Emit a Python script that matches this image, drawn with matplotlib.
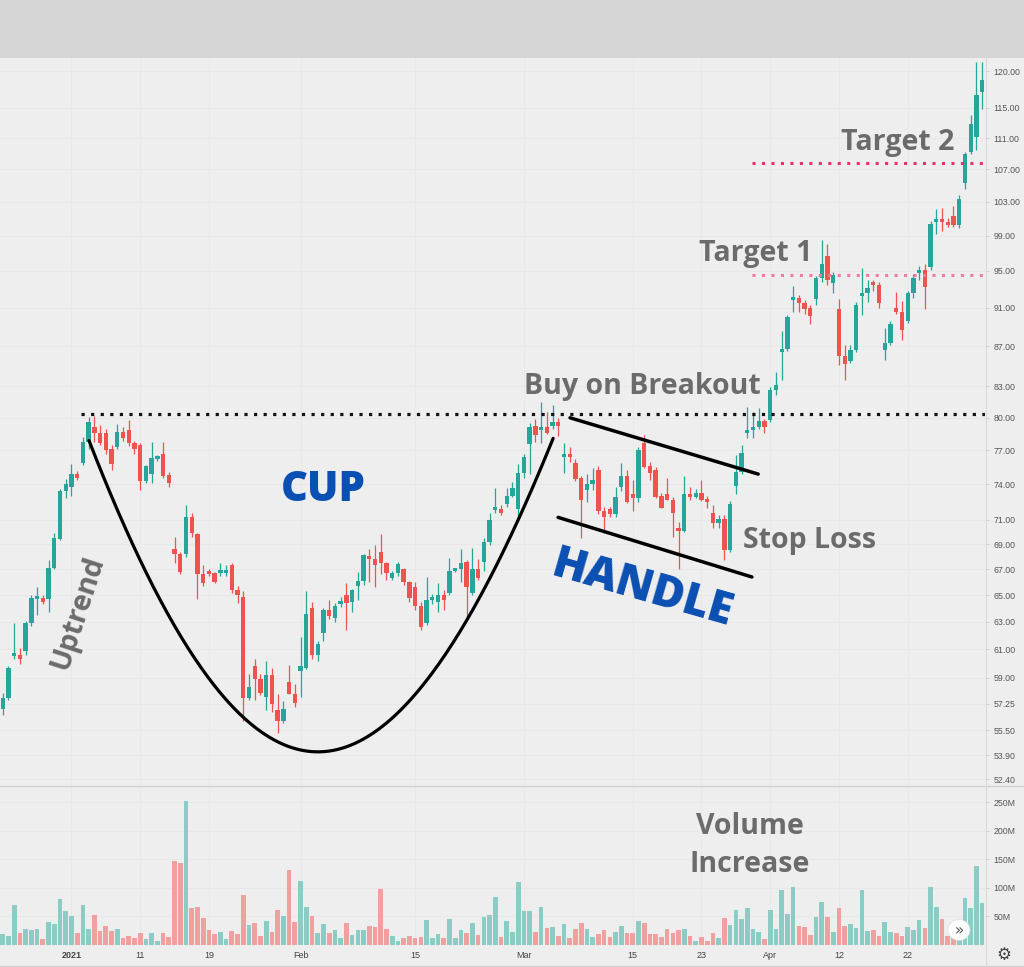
import matplotlib
matplotlib.use('Agg')
import matplotlib.pyplot as plt
import numpy as np
from matplotlib.lines import Line2D
from matplotlib.patches import Rectangle, Circle
from matplotlib.ticker import FixedLocator, FixedFormatter, NullLocator

# ---- candle data (price) ----
opens = [55.8, 56.9, 57.6, 60.5, 60.6, 60.9, 62.9, 64.7, 64.8, 64.7,
         67.1, 69.4, 73.4, 73.8, 74.9, 75.9, 77.8, 79.1, 78.6, 78.6,
         77.1, 77.3, 78.7, 78.9, 77.7, 77.5, 74.3, 74.9, 76.2, 76.7,
         74.8, 68.6, 68.2, 68.2, 71.2, 69.8, 66.6, 66.8, 66.7, 66.7,
         66.7, 67.3, 65.4, 64.9, 57.6, 59.8, 58.9, 57.7, 59.2, 56.8,
         56.1, 58.7, 57.9, 59.5, 59.7, 64.0, 60.6, 62.2, 63.9, 63.3,
         64.3, 65.0, 64.5, 65.7, 66.1, 67.9, 67.8, 68.4, 67.5, 66.3,
         66.7, 67.0, 66.0, 65.6, 64.2, 62.9, 64.6, 64.5, 65.0, 65.2,
         66.9, 67.0, 67.6, 65.2, 67.0, 67.6, 69.2, 71.8, 71.9, 72.3,
         73.0, 71.9, 75.0, 77.6, 79.2, 78.9, 79.1, 79.2, 79.6, 76.4,
         76.7, 75.9, 74.6, 73.5, 74.0, 75.3, 71.7, 71.9, 71.5, 73.8,
         74.7, 73.2, 72.8, 77.7, 75.6, 75.3, 73.0, 73.2, 72.7, 70.3,
         70.1, 73.2, 72.9, 73.3, 72.7, 71.6, 70.7, 71.1, 68.5, 73.9,
         75.1, 78.6, 78.9, 79.1, 79.7, 79.8, 82.6, 86.4, 86.7, 91.8,
         92.0, 91.5, 91.0, 91.9, 94.2, 96.7, 93.7, 90.9, 86.0, 85.5,
         86.6, 92.3, 92.6, 93.7, 93.5, 86.6, 87.3, 91.0, 90.6, 89.6,
         92.6, 94.8, 95.1, 95.4, 100.6, 100.9, 100.6, 101.3, 100.2, 105.3,
         109.2, 111.1, 117.2]
highs = [57.0, 58.0, 59.8, 62.9, 61.1, 63.1, 65.0, 65.6, 65.0, 67.7,
         69.9, 73.6, 74.5, 75.8, 75.2, 78.2, 80.1, 80.2, 79.3, 79.0,
         77.5, 79.4, 79.1, 79.8, 77.9, 77.7, 75.7, 77.8, 76.6, 77.8,
         75.1, 69.6, 68.4, 72.2, 71.6, 69.9, 67.3, 67.0, 66.8, 67.5,
         67.3, 67.5, 65.7, 65.3, 59.3, 60.3, 59.3, 60.2, 59.7, 57.9,
         57.4, 59.9, 58.6, 61.9, 65.3, 64.5, 61.6, 64.0, 64.6, 64.4,
         64.9, 65.9, 65.5, 66.8, 68.2, 68.6, 68.9, 69.8, 67.6, 66.9,
         67.6, 67.1, 66.1, 66.0, 64.5, 66.4, 65.1, 65.9, 65.4, 67.9,
         67.1, 68.6, 67.7, 68.7, 67.8, 69.5, 71.6, 73.7, 72.2, 73.7,
         74.2, 75.8, 76.7, 79.5, 79.9, 81.5, 80.5, 81.2, 80.0, 77.7,
         77.3, 76.2, 74.7, 74.9, 75.4, 75.6, 72.1, 72.1, 73.8, 75.9,
         75.3, 74.4, 77.3, 78.4, 76.0, 75.5, 73.3, 74.6, 72.9, 70.8,
         74.7, 73.8, 73.6, 74.4, 73.0, 72.2, 71.4, 71.4, 72.6, 76.6,
         77.5, 81.0, 80.5, 80.9, 79.9, 82.9, 84.4, 88.6, 90.2, 93.3,
         92.4, 91.8, 91.3, 94.5, 98.5, 98.0, 94.9, 91.9, 87.1, 87.1,
         91.6, 95.3, 94.0, 94.0, 93.8, 88.9, 89.6, 92.7, 91.7, 92.8,
         94.7, 95.6, 95.8, 100.7, 102.2, 102.3, 101.1, 102.5, 103.8, 109.2,
         114.0, 121.4, 121.3]
lows = [55.4, 56.5, 57.5, 60.3, 60.0, 60.6, 62.7, 63.5, 64.3, 63.7,
        67.0, 69.3, 72.8, 73.0, 74.4, 75.7, 77.1, 77.8, 77.5, 76.7,
        75.3, 77.1, 77.9, 77.4, 76.7, 73.5, 74.1, 74.1, 76.1, 74.6,
        73.8, 67.5, 66.6, 68.0, 69.6, 64.7, 65.7, 66.5, 65.9, 66.5,
        66.5, 65.2, 64.4, 56.1, 57.5, 57.5, 57.8, 56.8, 56.7, 55.3,
        56.0, 57.9, 57.0, 57.7, 59.6, 60.3, 60.2, 61.6, 63.2, 63.0,
        64.1, 62.4, 63.7, 64.6, 65.8, 66.0, 65.6, 66.6, 66.2, 66.2,
        66.5, 65.8, 64.5, 63.9, 62.4, 62.8, 64.3, 63.7, 63.9, 65.0,
        66.8, 66.0, 63.3, 65.0, 66.2, 66.9, 68.9, 71.6, 71.4, 72.1,
        72.9, 71.3, 74.6, 74.9, 77.8, 77.7, 78.5, 79.0, 78.3, 75.0,
        76.0, 74.3, 69.5, 72.5, 73.5, 71.5, 69.9, 71.2, 71.2, 73.4,
        72.4, 71.7, 72.5, 75.4, 74.4, 72.8, 72.0, 72.7, 69.6, 67.0,
        70.0, 72.7, 72.8, 72.6, 72.0, 70.3, 70.3, 67.7, 68.4, 73.2,
        74.9, 78.1, 78.1, 79.0, 78.6, 79.6, 82.2, 83.6, 86.5, 90.5,
        90.5, 90.3, 89.3, 91.3, 93.8, 93.5, 92.6, 85.1, 83.6, 85.3,
        86.4, 90.2, 91.6, 92.8, 91.0, 85.6, 87.1, 90.3, 87.6, 89.4,
        92.0, 94.0, 90.9, 95.1, 99.2, 99.5, 100.0, 100.0, 99.9, 104.6,
        108.9, 109.5, 114.9]
closes = [56.6, 57.6, 59.7, 60.7, 60.3, 62.9, 64.8, 64.9, 64.5, 67.1,
          69.5, 73.4, 74.0, 74.9, 74.6, 77.8, 79.6, 78.6, 77.7, 77.0,
          75.8, 78.7, 78.1, 77.7, 77.1, 74.3, 75.6, 76.3, 76.5, 74.7,
          74.1, 68.2, 66.8, 71.2, 69.9, 66.6, 65.9, 66.6, 66.0, 66.8,
          66.8, 65.4, 65.0, 57.6, 58.4, 58.9, 58.0, 59.2, 57.2, 56.1,
          56.9, 57.9, 57.3, 59.8, 63.6, 60.6, 61.4, 63.9, 63.4, 64.2,
          64.5, 64.4, 65.4, 66.1, 68.1, 67.8, 67.3, 67.5, 66.7, 66.7,
          67.4, 66.0, 64.8, 64.2, 62.6, 64.6, 64.8, 65.0, 64.6, 66.9,
          67.0, 67.5, 65.6, 67.0, 66.3, 69.2, 71.0, 72.0, 71.6, 73.0,
          73.7, 75.0, 76.4, 79.1, 78.4, 79.1, 78.6, 79.6, 79.2, 76.7,
          76.4, 74.5, 72.7, 74.0, 74.4, 71.7, 71.2, 71.5, 72.9, 74.7,
          72.5, 72.8, 77.0, 75.5, 75.0, 72.9, 72.0, 72.7, 71.6, 70.1,
          73.2, 72.9, 73.3, 72.7, 72.5, 70.7, 71.1, 68.5, 72.3, 75.1,
          76.8, 78.9, 79.1, 79.7, 79.1, 82.6, 83.1, 86.6, 90.0, 92.0,
          91.5, 90.9, 90.1, 94.2, 95.8, 94.0, 94.6, 86.0, 85.2, 86.6,
          91.3, 92.5, 93.1, 93.5, 91.5, 87.3, 89.3, 90.6, 88.7, 92.6,
          94.2, 95.1, 93.2, 100.4, 100.9, 100.6, 100.3, 100.2, 103.3, 108.9,
          112.9, 116.7, 118.8]

# volume in millions
volume_m = [20.0, 18.7, 15.8, 70.2, 21.6, 27.5, 26.3, 27.5, 9.9, 39.8,
            36.9, 80.1, 59.7, 50.9, 20.5, 70.2, 28.1, 52.7, 25.2, 33.9,
            25.2, 28.1, 12.9, 16.4, 12.9, 20.5, 10.5, 20.5, 7.0, 21.6,
            14.6, 148.0, 143.0, 252.7, 64.4, 67.3, 48.0, 26.3, 18.7, 22.2,
            9.9, 24.6, 19.3, 87.8, 35.1, 39.2, 15.8, 42.7, 23.4, 61.4,
            51.5, 131.6, 39.8, 112.3, 66.1, 51.5, 21.6, 36.3, 20.5, 26.3,
            11.7, 38.0, 17.6, 26.3, 26.3, 33.9, 32.2, 98.3, 28.1, 16.4,
            7.0, 12.9, 15.8, 12.9, 13.5, 43.9, 11.7, 18.7, 11.7, 45.6,
            12.9, 26.3, 21.6, 38.0, 17.6, 49.7, 52.7, 84.8, 14.6, 42.1,
            22.2, 111.2, 59.7, 59.7, 23.4, 67.3, 29.3, 32.2, 16.4, 36.3,
            12.9, 28.1, 39.2, 28.1, 14.6, 18.7, 26.3, 14.6, 22.2, 33.3,
            20.5, 21.6, 42.1, 39.2, 18.7, 18.7, 14.6, 28.1, 21.6, 26.3,
            28.1, 15.8, 7.6, 13.5, 7.6, 20.5, 12.9, 48.0, 35.1, 61.4,
            45.6, 65.5, 27.5, 22.2, 9.9, 61.4, 28.1, 96.5, 53.8, 101.2,
            33.9, 32.2, 17.6, 49.7, 76.1, 49.7, 22.2, 65.5, 33.9, 36.3,
            30.4, 96.5, 25.2, 26.3, 15.8, 39.8, 23.4, 21.6, 16.4, 32.2,
            26.3, 43.9, 30.4, 101.2, 67.3, 45.6, 15.8, 17.6, 32.2, 81.9,
            64.4, 138.6, 73.1]

price_ticks = [52.40, 53.90, 55.50, 57.25, 59, 61, 63, 65, 67, 69, 71, 74,
               77, 80, 83, 87, 91, 95, 99, 103, 107, 111, 115, 120]
volume_ticks = [50, 100, 150, 200, 250]
date_pos = [13, 25, 37, 53, 73, 92, 111, 123, 135, 147, 159]
date_labels = ['2021', '11', '19', 'Feb', '15', 'Mar', '15', '23', 'Apr', '12', '22']

breakout = 80.4
target1 = 94.6
target2 = 107.8

UP = '#26a69a'
DOWN = '#ef5350'
UP_V = '#8bcdc5'
DOWN_V = '#f0a09f'
BG = '#eeeeee'
GREY_TXT = '#6b6b6b'
BLUE = '#0a4fb2'
TICK_TXT = '#555555'

opens = np.array(opens)
highs = np.array(highs)
lows = np.array(lows)
closes = np.array(closes)
x = np.arange(len(opens))
up = closes >= opens

W, H = 1024, 967
fig = plt.figure(figsize=(W / 100, H / 100), dpi=100, facecolor=BG)

# grey header band
fig.patches.append(Rectangle((0, 1 - 58 / H), 1, 58 / H, transform=fig.transFigure,
                             facecolor='#d6d6d6', edgecolor='none', zorder=-5))

ax = fig.add_axes([0, (H - 785) / H, 985 / W, (785 - 58) / H])
axv = fig.add_axes([0, (H - 945) / H, 985 / W, (945 - 787) / H], sharex=ax)

for a in (ax, axv):
    a.set_facecolor(BG)
    for s in a.spines.values():
        s.set_visible(False)
    a.yaxis.tick_right()
    a.tick_params(axis='y', length=3, width=0.6, color='#c8c8c8', labelsize=6.3,
                  labelcolor=TICK_TXT, pad=3)
    a.tick_params(axis='x', length=0)
    for lbl in a.get_yticklabels():
        lbl.set_fontfamily('Liberation Sans')

# ---- price panel ----
ax.set_yscale('log')
ax.set_xlim(0.52, 172.5)
ax.set_ylim(52.05, 121.9)
ax.yaxis.set_major_locator(FixedLocator(price_ticks))
ax.yaxis.set_major_formatter(FixedFormatter(['%.2f' % t for t in price_ticks]))
ax.yaxis.set_minor_locator(NullLocator())
ax.set_xticks(date_pos)
ax.tick_params(axis='x', labelbottom=False)
ax.grid(True, color='#e8e8e8', lw=0.6)
ax.set_axisbelow(True)

colors = np.where(up, UP, DOWN)
ax.vlines(x, lows, highs, colors=colors, lw=0.9, zorder=2)
body_lo = np.minimum(opens, closes)
body_h = np.maximum(np.abs(closes - opens), body_lo * 0.0035)
ax.bar(x, body_h, bottom=body_lo, width=0.76, color=colors, lw=0, zorder=3)

# dotted levels
ax.plot([14.6, 172.5], [breakout, breakout], color='#111111', lw=2.3,
        ls=(0, (1, 2.0)), zorder=4)
ax.plot([131.8, 172.5], [target2, target2], color='#e8306a', lw=2.2,
        ls=(0, (1, 2.1)), zorder=4)
ax.plot([131.8, 172.5], [target1, target1], color='#f27a9e', lw=2.2,
        ls=(0, (1, 2.1)), zorder=4)

# cup: cubic bezier in (index, log price)
cup_pts = [(16.06, 77.9), (44.2, 47.9), (67.6, 47.9), (97.1, 78.1)]
t = np.linspace(0, 1, 200)[:, None]
P = np.array([(px, np.log(py)) for px, py in cup_pts])
B = ((1 - t) ** 3) * P[0] + 3 * ((1 - t) ** 2) * t * P[1] + 3 * (1 - t) * t ** 2 * P[2] + t ** 3 * P[3]
ax.plot(B[:, 0], np.exp(B[:, 1]), color='black', lw=2.3, solid_capstyle='round', zorder=5)

# handle channel
ax.plot([100.05, 132.9], [80.0, 74.9], color='black', lw=2.5, solid_capstyle='round', zorder=5)
ax.plot([97.96, 131.8], [71.2, 66.4], color='black', lw=2.5, solid_capstyle='round', zorder=5)

lab = dict(fontfamily='Open Sans', fontweight='bold', color=GREY_TXT,
           ha='center', va='center', fontsize=20.5, zorder=6)
ax.text(157.2, 110.4, 'Target 2', **lab)
ax.text(132.5, 97.0, 'Target 1', **lab)
ax.text(112.6, 83.0, 'Buy on Breakout', **lab)
ax.text(141.9, 69.3, 'Stop Loss', **lab)
ax.text(14.1, 63.7, 'Uptrend', rotation=72, rotation_mode='anchor', **lab)

blue = dict(fontfamily='Open Sans', fontweight='heavy', color=BLUE,
            ha='center', va='center', zorder=6)
ax.text(56.9, 73.5, 'CUP', fontsize=30, **blue)
ax.text(112.6, 65.4, 'HANDLE', fontsize=32, rotation=-16, rotation_mode='anchor', **blue)

# ---- volume panel ----
vcolors = np.where(up, UP_V, DOWN_V)
axv.bar(x, volume_m, width=0.82, color=vcolors, lw=0, zorder=3)
axv.set_ylim(0, 277)
axv.set_yticks(volume_ticks)
axv.set_yticklabels(['%dM' % v for v in volume_ticks])
axv.set_xticks(date_pos)
axv.set_xticklabels(date_labels)
axv.tick_params(axis='x', labelsize=6.5, labelcolor='#444444', pad=4)
for lbl in axv.get_xticklabels():
    lbl.set_fontfamily('Liberation Sans')
    if lbl.get_text() == '2021':
        lbl.set_fontweight('bold')
axv.grid(True, color='#e8e8e8', lw=0.6)
axv.set_axisbelow(True)

axv.text(131.4, 208, 'Volume', **lab)
axv.text(131.4, 142, 'Increase', **lab)

# panel borders
def hline_px(y, x0=0, x1=W, c='#d2d2d2', lw=1.0):
    fig.add_artist(Line2D([x0 / W, x1 / W], [1 - y / H, 1 - y / H], transform=fig.transFigure,
                          color=c, lw=lw))

hline_px(786)
hline_px(966)
fig.add_artist(Line2D([985.5 / W, 985.5 / W], [1 - 58 / H, 1 - 966 / H], transform=fig.transFigure,
                      color='#dadada', lw=0.8))

# scroll button and settings icon
fig.patches.append(Circle((959 / W, 1 - 930 / H), 11 / W, transform=fig.transFigure,
                          facecolor='white', edgecolor='#e0e0e0', lw=0.5, alpha=0.95, zorder=10))
fig.text(959 / W, 1 - 931 / H, '»', ha='center', va='center', fontsize=11, color='#555555', zorder=11)
fig.text(1004 / W, 1 - 955 / H, '⚙', ha='center', va='center', fontsize=12, color='#444444',
         fontfamily='DejaVu Sans')

fig.savefig('out.png', dpi=100, facecolor=BG)
